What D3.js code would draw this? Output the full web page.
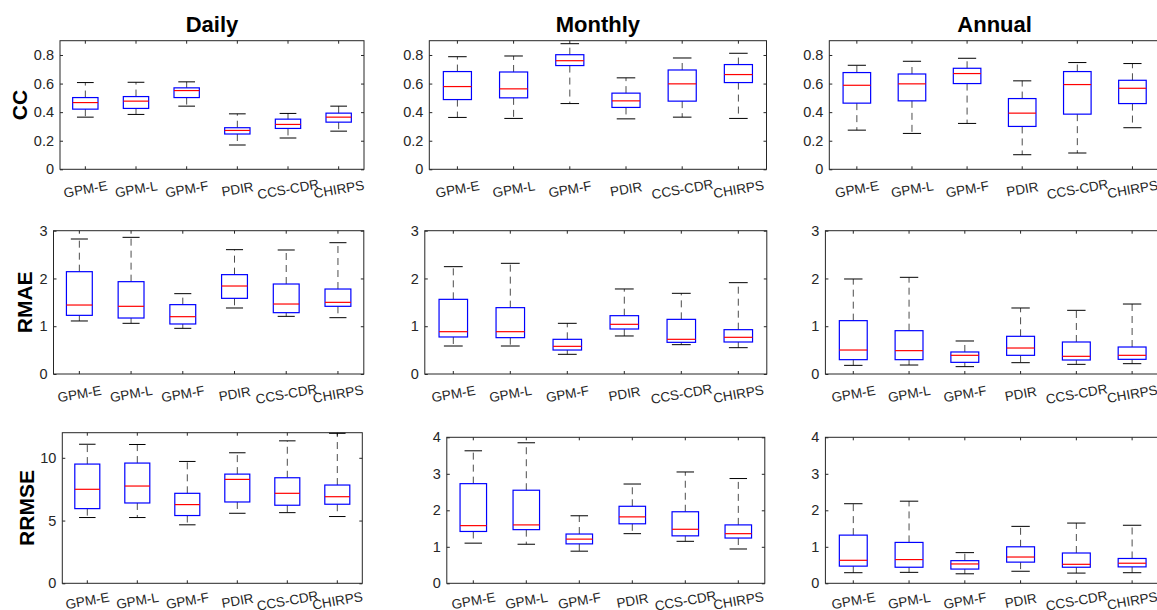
<!DOCTYPE html>
<html>
<head>
<meta charset="utf-8">
<script src="https://cdn.jsdelivr.net/npm/d3@7"></script>
<style>
body{margin:0;background:#fff;}
svg{font-family:"Liberation Sans",Arial,Helvetica,sans-serif;}
</style>
</head>
<body>
<svg id="chart" width="1157" height="610"></svg>
<script>
var products = ["GPM-E","GPM-L","GPM-F","PDIR","CCS-CDR","CHIRPS"];
var timeScales = ["Daily","Monthly","Annual"];
var metrics = ["CC","RMAE","RRMSE"];

// one row per product: [lower whisker, q1, median, q3, upper whisker]
var ccDaily = [
  [0.365,0.421,0.467,0.502,0.607],
  [0.384,0.426,0.477,0.509,0.609],
  [0.442,0.502,0.551,0.570,0.612],
  [0.170,0.247,0.272,0.291,0.388],
  [0.219,0.286,0.314,0.351,0.391],
  [0.267,0.330,0.365,0.393,0.442]];
var ccMonthly = [
  [0.363,0.488,0.579,0.684,0.788],
  [0.356,0.500,0.563,0.681,0.793],
  [0.460,0.726,0.760,0.802,0.879],
  [0.353,0.433,0.479,0.533,0.640],
  [0.365,0.477,0.598,0.695,0.779],
  [0.356,0.607,0.663,0.733,0.812]];
var ccAnnual = [
  [0.274,0.463,0.588,0.677,0.728],
  [0.251,0.479,0.598,0.667,0.756],
  [0.321,0.600,0.670,0.707,0.777],
  [0.102,0.300,0.393,0.495,0.619],
  [0.114,0.386,0.593,0.684,0.747],
  [0.291,0.460,0.567,0.623,0.740]];

var rmaeDaily = [
  [1.110,1.228,1.444,2.142,2.826],
  [1.061,1.172,1.417,1.933,2.861],
  [0.956,1.047,1.200,1.452,1.682],
  [1.382,1.584,1.842,2.080,2.603],
  [1.207,1.284,1.465,1.884,2.596],
  [1.179,1.417,1.500,1.779,2.749]];
var rmaeMonthly = [
  [0.586,0.775,0.886,1.563,2.247],
  [0.586,0.761,0.886,1.389,2.317],
  [0.412,0.502,0.579,0.726,1.061],
  [0.796,0.942,1.040,1.221,1.780],
  [0.614,0.663,0.726,1.144,1.689],
  [0.551,0.670,0.768,0.928,1.912]];
var rmaeAnnual = [
  [0.181,0.300,0.502,1.117,1.989],
  [0.188,0.300,0.489,0.907,2.024],
  [0.154,0.244,0.391,0.461,0.691],
  [0.237,0.391,0.544,0.789,1.382],
  [0.202,0.293,0.370,0.670,1.333],
  [0.216,0.307,0.391,0.565,1.465]];

var rrmseDaily = [
  [5.24,5.95,7.49,9.50,11.08],
  [5.24,6.40,7.75,9.58,11.06],
  [4.66,5.40,6.27,7.17,9.71],
  [5.58,6.48,8.28,8.70,10.40],
  [5.63,6.22,7.17,8.41,11.35],
  [5.32,6.30,6.90,7.83,11.95]];
var rrmseMonthly = [
  [1.10,1.42,1.58,2.73,3.63],
  [1.07,1.47,1.60,2.55,3.85],
  [0.88,1.08,1.21,1.35,1.85],
  [1.36,1.63,1.82,2.11,2.72],
  [1.15,1.30,1.48,1.96,3.05],
  [0.94,1.24,1.36,1.60,2.87]];
var rrmseAnnual = [
  [0.29,0.47,0.63,1.32,2.18],
  [0.30,0.44,0.65,1.12,2.25],
  [0.26,0.39,0.53,0.62,0.84],
  [0.33,0.58,0.72,1.00,1.56],
  [0.28,0.44,0.52,0.83,1.65],
  [0.29,0.45,0.55,0.68,1.59]];

var ccTicks = [0,0.2,0.4,0.6,0.8];
var rmaeTicks = [0,1,2,3];
var rrmseDailyTicks = [0,5,10];
var rrmseTicks = [0,1,2,3,4];

// panel boxes [left, right, top, bottom] in px
var panels = [
  {row:0,col:0,data:ccDaily,ticks:ccTicks,ymax:0.9,box:[60,364,40.7,169.3]},
  {row:0,col:1,data:ccMonthly,ticks:ccTicks,ymax:0.9,box:[429.3,766.5,40.7,169.3]},
  {row:0,col:2,data:ccAnnual,ticks:ccTicks,ymax:0.9,box:[829.3,1160,40.7,169.3]},
  {row:1,col:0,data:rmaeDaily,ticks:rmaeTicks,ymax:3,box:[53.5,363.8,230.7,374]},
  {row:1,col:1,data:rmaeMonthly,ticks:rmaeTicks,ymax:3,box:[424.8,766.8,230.7,374]},
  {row:1,col:2,data:rmaeAnnual,ticks:rmaeTicks,ymax:3,box:[825.4,1160,230.7,374]},
  {row:2,col:0,data:rrmseDaily,ticks:rrmseDailyTicks,ymax:12,box:[62.3,362.3,432.7,583.3]},
  {row:2,col:1,data:rrmseMonthly,ticks:rrmseTicks,ymax:4,box:[446.8,764.8,437.3,583.3]},
  {row:2,col:2,data:rrmseAnnual,ticks:rrmseTicks,ymax:4,box:[825.4,1160,437.3,583.3]}
];
var ylabelX = [27,32,33.5];
var xlabelDrop = [24.5,24.5,22];

var svg = d3.select("#chart");
var axisColor = "#262626";

panels.forEach(function(p) {
  var L=p.box[0], R=p.box[1], T=p.box[2], B=p.box[3];
  var x = d3.scaleBand().domain(products).range([L,R]).padding(0);
  var y = d3.scaleLinear().domain([0,p.ymax]).range([B,T]);
  var bw = x.bandwidth();
  var g = svg.append("g");

  // ticks pointing inward on all four sides
  var fmt = function(d){ return String(+d.toFixed(1)); };
  var ax = g.append("g").attr("transform","translate("+L+",0)")
    .call(d3.axisLeft(y).tickValues(p.ticks).tickSize(-3).tickPadding(6).tickFormat(fmt));
  g.append("g").attr("transform","translate("+R+",0)")
    .call(d3.axisRight(y).tickValues(p.ticks).tickSize(-3).tickFormat(""));
  var bx = g.append("g").attr("transform","translate(0,"+B+")")
    .call(d3.axisBottom(x).tickSize(-3).tickPadding(0));
  g.append("g").attr("transform","translate(0,"+T+")")
    .call(d3.axisTop(x).tickSize(-3).tickFormat(""));
  g.selectAll(".domain").remove();
  g.selectAll(".tick line").attr("stroke",axisColor).attr("stroke-width",1);
  ax.selectAll("text").attr("fill",axisColor).attr("font-size","14.5px")
    .attr("font-family","Liberation Sans, Arial, sans-serif");
  bx.selectAll("text")
    .attr("fill",axisColor).attr("font-size","13.5px")
    .attr("font-family","Liberation Sans, Arial, sans-serif")
    .attr("y",0).attr("dy",0)
    .attr("text-anchor","middle")
    .attr("transform","translate(1,"+xlabelDrop[p.row]+") rotate(-10)");

  g.append("rect").attr("x",L).attr("y",T).attr("width",R-L).attr("height",B-T)
    .attr("fill","none").attr("stroke",axisColor).attr("stroke-width",1);

  var boxes = g.selectAll("g.bx").data(p.data).enter().append("g").attr("class","bx");
  var cx = function(d,i){ return x(products[i]) + bw/2; };
  var capW = bw*0.33;
  // whiskers
  boxes.append("line").attr("x1",cx).attr("x2",cx)
    .attr("y1",function(d){return y(d[3]);}).attr("y2",function(d){return y(d[4]);})
    .attr("stroke","#000").attr("stroke-opacity",0.7).attr("stroke-dasharray","7,5");
  boxes.append("line").attr("x1",cx).attr("x2",cx)
    .attr("y1",function(d){return y(d[1]);}).attr("y2",function(d){return y(d[0]);})
    .attr("stroke","#000").attr("stroke-opacity",0.7).attr("stroke-dasharray","7,5");
  [0,4].forEach(function(k){
    boxes.append("line")
      .attr("x1",function(d,i){return cx(d,i)-capW/2;})
      .attr("x2",function(d,i){return cx(d,i)+capW/2;})
      .attr("y1",function(d){return y(d[k]);}).attr("y2",function(d){return y(d[k]);})
      .attr("stroke","#000").attr("stroke-width",1);
  });
  boxes.append("rect")
    .attr("x",function(d,i){return cx(d,i)-bw/4;})
    .attr("width",bw/2)
    .attr("y",function(d){return y(d[3]);})
    .attr("height",function(d){return y(d[1])-y(d[3]);})
    .attr("fill","none").attr("stroke","#0000ff").attr("stroke-width",1.2);
  boxes.append("line")
    .attr("x1",function(d,i){return cx(d,i)-bw/4;})
    .attr("x2",function(d,i){return cx(d,i)+bw/4;})
    .attr("y1",function(d){return y(d[2]);}).attr("y2",function(d){return y(d[2]);})
    .attr("stroke","#ff0000").attr("stroke-width",1.2);

  if (p.row===0) {
    svg.append("text").attr("x",(L+R)/2).attr("y",T-9)
      .attr("text-anchor","middle").attr("font-weight","bold").attr("font-size","22px")
      .attr("fill","#000").text(timeScales[p.col]);
  }
  if (p.col===0) {
    svg.append("text")
      .attr("transform","translate("+ylabelX[p.row]+","+((T+B)/2)+") rotate(-90)")
      .attr("text-anchor","middle").attr("font-weight","bold").attr("font-size","21px")
      .attr("fill","#000").text(metrics[p.row]);
  }
});
</script>
</body>
</html>
